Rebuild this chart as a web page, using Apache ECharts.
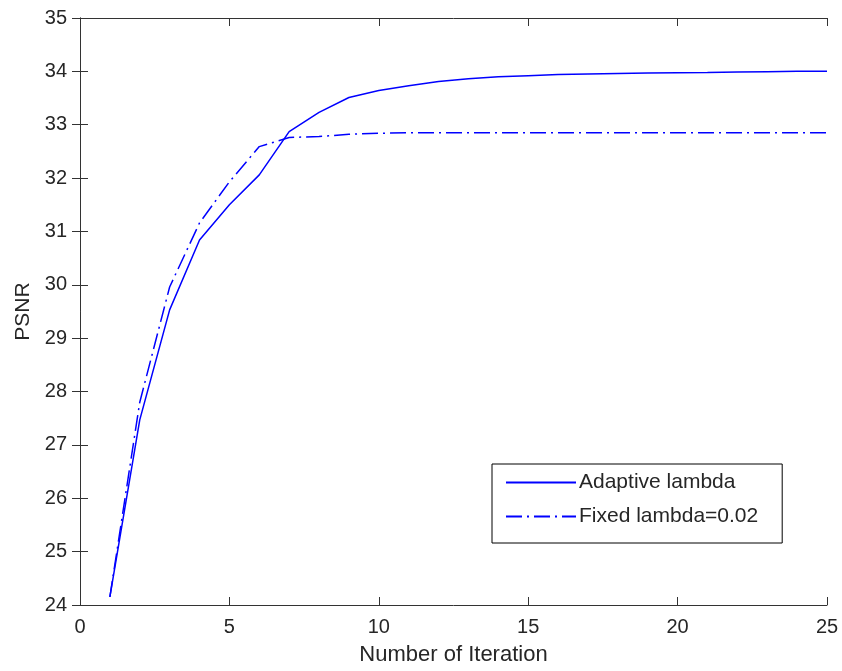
<!DOCTYPE html>
<html>
<head>
<meta charset="utf-8">
<script src="https://cdn.jsdelivr.net/npm/echarts@6/dist/echarts.min.js"></script>
<style>html,body{margin:0;padding:0;background:#fff;}#c{width:842px;height:671px;}</style>
</head>
<body>
<div id="c"></div>
<script>
const iterations = [1,2,3,4,5,6,7,8,9,10,11,12,13,14,15,16,17,18,19,20,21,22,23,24,25];
const adaptiveLambda = [24.15,27.47,29.53,30.84,31.50,32.06,32.87,33.23,33.51,33.64,33.73,33.81,33.86,33.90,33.92,33.94,33.95,33.96,33.97,33.975,33.98,33.99,33.995,34.0,34.0];
const fixedLambda = [24.15,27.80,29.96,31.16,31.93,32.59,32.76,32.78,32.82,32.84,32.85,32.85,32.85,32.85,32.85,32.85,32.85,32.85,32.85,32.85,32.85,32.85,32.85,32.85,32.85];
const seriesNames = ['Adaptive lambda', 'Fixed lambda=0.02'];
const xTicks = {min: 0, max: 25, interval: 5};
const yTicks = {min: 24, max: 35, interval: 1};

const font = 'Liberation Sans, Arial, sans-serif';
const axisColor = '#333333';
const textColor = '#262626';

const pair = (xs, ys) => xs.map((x, i) => [x, ys[i]]);

const chart = echarts.init(document.getElementById('c'), null, {renderer: 'canvas'});
const baseAxis = {
  axisLine: {show: true, lineStyle: {color: axisColor, width: 1}},
  axisTick: {show: true, inside: true, length: 8, lineStyle: {color: axisColor}},
  splitLine: {show: false}
};
chart.setOption({
  animation: false,
  backgroundColor: '#ffffff',
  grid: {left: 80, right: 15, top: 18, bottom: 66, containLabel: false},
  xAxis: [
    Object.assign({}, baseAxis, {
      type: 'value', position: 'bottom', min: xTicks.min, max: xTicks.max, interval: xTicks.interval,
      name: 'Number of Iteration', nameLocation: 'middle', nameGap: 39,
      nameTextStyle: {fontFamily: font, fontSize: 22, color: textColor},
      axisLabel: {fontFamily: font, fontSize: 20, color: textColor, margin: 12}
    }),
    Object.assign({}, baseAxis, {
      type: 'value', position: 'top', min: xTicks.min, max: xTicks.max, interval: xTicks.interval,
      axisLabel: {show: false}
    })
  ],
  yAxis: [
    Object.assign({}, baseAxis, {
      type: 'value', position: 'left', min: yTicks.min, max: yTicks.max, interval: yTicks.interval,
      name: 'PSNR', nameLocation: 'middle', nameGap: 46,
      nameTextStyle: {fontFamily: font, fontSize: 21, color: textColor},
      axisLabel: {fontFamily: font, fontSize: 20, color: textColor, margin: 13}
    }),
    Object.assign({}, baseAxis, {
      type: 'value', position: 'right', min: yTicks.min, max: yTicks.max, interval: yTicks.interval,
      axisLabel: {show: false}
    })
  ],
  legend: {
    show: true,
    orient: 'vertical',
    left: 492, top: 464,
    padding: [8, 24, 16, 13],
    itemWidth: 70, itemHeight: 14, itemGap: 13,
    backgroundColor: '#ffffff',
    borderColor: '#000000', borderWidth: 1, borderRadius: 0,
    itemStyle: {opacity: 0, borderWidth: 0},
    textStyle: {fontFamily: font, fontSize: 21, color: textColor, padding: [0, 0, 0, -2]},
    data: seriesNames
  },
  series: [
    {
      name: seriesNames[0], type: 'line', xAxisIndex: 0, yAxisIndex: 0,
      data: pair(iterations, adaptiveLambda),
      symbol: 'none', showSymbol: false,
      lineStyle: {color: '#0000ff', width: 1.5, type: 'solid'},
      itemStyle: {color: '#0000ff'}
    },
    {
      name: seriesNames[1], type: 'line', xAxisIndex: 0, yAxisIndex: 0,
      data: pair(iterations, fixedLambda),
      symbol: 'none', showSymbol: false,
      lineStyle: {color: '#0000ff', width: 1.5, type: [16, 5, 2, 5]},
      itemStyle: {color: '#0000ff'}
    }
  ]
});
</script>
</body>
</html>
